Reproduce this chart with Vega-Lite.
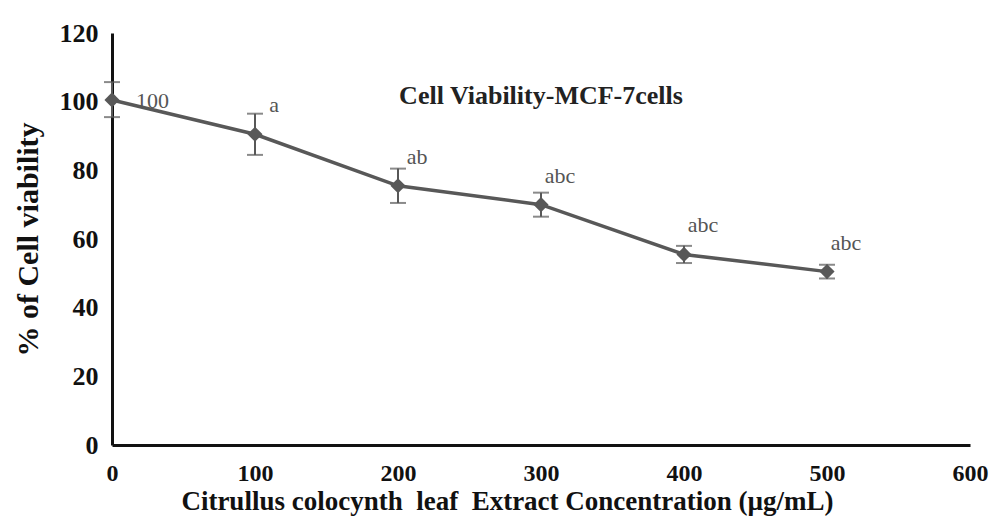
{
  "$schema": "https://vega.github.io/schema/vega-lite/v6.json",
  "width": 858,
  "height": 412,
  "autosize": {"type": "none"},
  "padding": {"left": 112, "top": 33, "right": 27, "bottom": 80},
  "background": "white",
  "config": {"view": {"stroke": null}, "font": "Liberation Serif"},
  "title": {"text": "Cell Viability-MCF-7cells", "anchor": "middle", "offset": 0, "dy": 89, "fontSize": 26, "font": "Liberation Serif", "fontWeight": "bold", "color": "#222222"},
  "data": {"values": [
    {"conc": 0, "viability": 100.5, "lo": 95.5, "hi": 105.7, "label": "100"},
    {"conc": 100, "viability": 90.5, "lo": 84.5, "hi": 96.5, "label": "a"},
    {"conc": 200, "viability": 75.5, "lo": 70.5, "hi": 80.5, "label": "ab"},
    {"conc": 300, "viability": 70, "lo": 66.5, "hi": 73.5, "label": "abc"},
    {"conc": 400, "viability": 55.5, "lo": 53, "hi": 58, "label": "abc"},
    {"conc": 500, "viability": 50.5, "lo": 48.5, "hi": 52.5, "label": "abc"}
  ]},
  "encoding": {
    "x": {"field": "conc", "type": "quantitative",
      "scale": {"domain": [0, 600], "nice": false},
      "axis": {"values": [0, 100, 200, 300, 400, 500, 600], "grid": false, "ticks": false, "labelFlush": false,
        "domainColor": "#111111", "domainWidth": 3,
        "labelFont": "Liberation Serif", "labelFontWeight": "bold", "labelFontSize": 24, "labelColor": "#111111", "labelPadding": 16,
        "title": "Citrullus colocynth \u00a0leaf \u00a0Extract Concentration (µg/mL)",
        "titleX": 395,
        "titleFont": "Liberation Serif", "titleFontWeight": "bold", "titleFontSize": 27, "titleColor": "#111111", "titlePadding": 3}},
    "y": {"field": "viability", "type": "quantitative",
      "scale": {"domain": [0, 120], "nice": false},
      "axis": {"values": [0, 20, 40, 60, 80, 100, 120], "grid": false, "ticks": false, "labelFlush": false,
        "domainColor": "#111111", "domainWidth": 3,
        "labelFont": "Liberation Serif", "labelFontWeight": "bold", "labelFontSize": 26, "labelColor": "#111111", "labelPadding": 14,
        "title": "% of Cell viability",
        "titleFont": "Liberation Serif", "titleFontWeight": "bold", "titleFontSize": 30, "titleColor": "#111111", "titlePadding": 16}}
  },
  "layer": [
    {"mark": {"type": "line", "color": "#585858", "strokeWidth": 3.5}},
    {"mark": {"type": "errorbar", "color": "#585858", "ticks": {"size": 16, "thickness": 2}, "rule": {"strokeWidth": 2}},
      "encoding": {"y": {"field": "lo", "type": "quantitative"}, "y2": {"field": "hi"}}},
    {"mark": {"type": "point", "shape": "diamond", "size": 230, "filled": true, "opacity": 1, "color": "#585858"}},
    {"transform": [{"filter": "datum.label !== '100'"}],
      "mark": {"type": "text", "align": "center", "baseline": "middle", "dx": 19, "dy": -29, "fontSize": 22, "font": "Liberation Serif", "color": "#555555"},
      "encoding": {"text": {"field": "label"}}},
    {"transform": [{"filter": "datum.label === '100'"}],
      "mark": {"type": "text", "align": "left", "baseline": "middle", "dx": 24, "dy": 1, "fontSize": 22, "font": "Liberation Serif", "color": "#555555"},
      "encoding": {"text": {"field": "label"}}}
  ]
}
